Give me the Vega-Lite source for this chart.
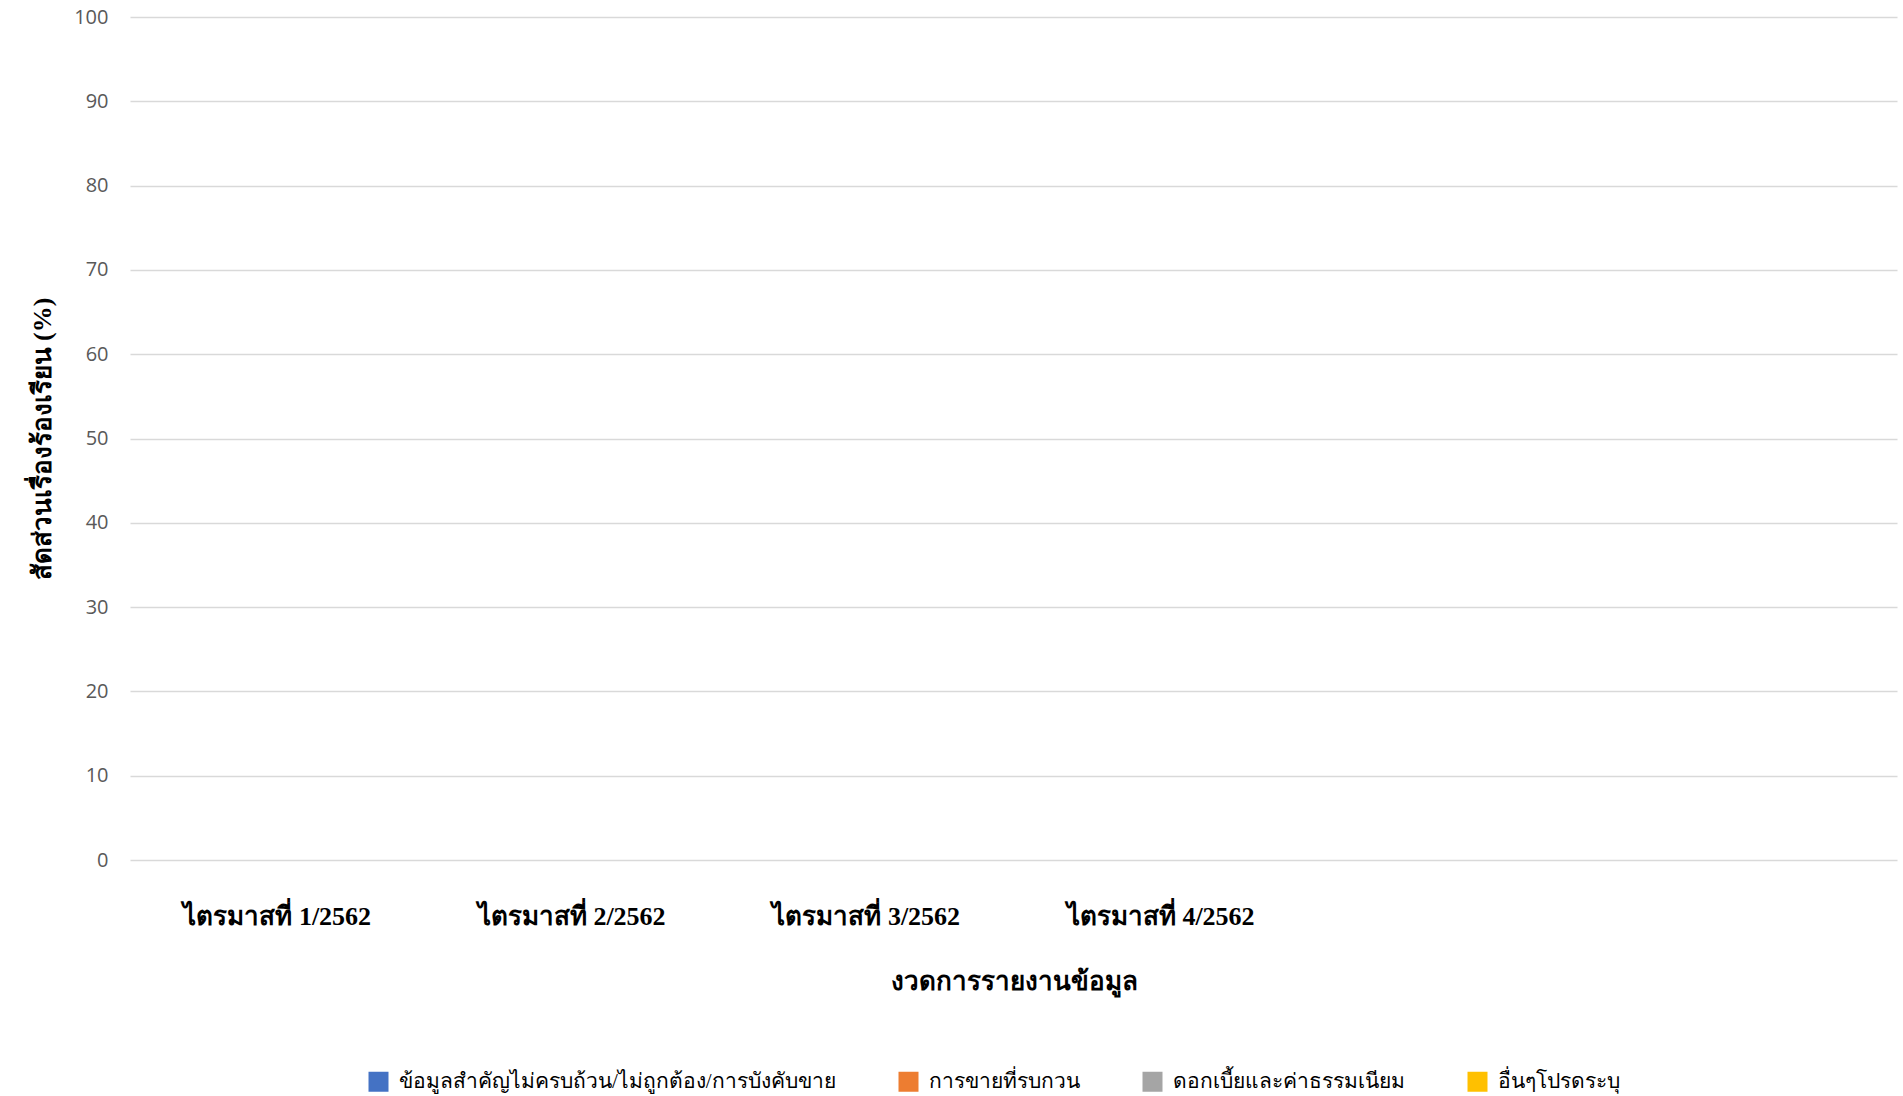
{
  "$schema": "https://vega.github.io/schema/vega-lite/v6.json",
  "autosize": "none",
  "width": 1767,
  "height": 843,
  "padding": {"left": 130, "top": 17, "right": 6, "bottom": 236},
  "background": "white",
  "data": {
    "values": [
      {"period": "ไตรมาสที่ 1/2562", "type": "ข้อมูลสำคัญไม่ครบถ้วน/ไม่ถูกต้อง/การบังคับขาย", "value": 0},
      {"period": "ไตรมาสที่ 1/2562", "type": "การขายที่รบกวน", "value": 0},
      {"period": "ไตรมาสที่ 1/2562", "type": "ดอกเบี้ยและค่าธรรมเนียม", "value": 0},
      {"period": "ไตรมาสที่ 1/2562", "type": "อื่นๆโปรดระบุ", "value": 0},
      {"period": "ไตรมาสที่ 2/2562", "type": "ข้อมูลสำคัญไม่ครบถ้วน/ไม่ถูกต้อง/การบังคับขาย", "value": 0},
      {"period": "ไตรมาสที่ 2/2562", "type": "การขายที่รบกวน", "value": 0},
      {"period": "ไตรมาสที่ 2/2562", "type": "ดอกเบี้ยและค่าธรรมเนียม", "value": 0},
      {"period": "ไตรมาสที่ 2/2562", "type": "อื่นๆโปรดระบุ", "value": 0},
      {"period": "ไตรมาสที่ 3/2562", "type": "ข้อมูลสำคัญไม่ครบถ้วน/ไม่ถูกต้อง/การบังคับขาย", "value": 0},
      {"period": "ไตรมาสที่ 3/2562", "type": "การขายที่รบกวน", "value": 0},
      {"period": "ไตรมาสที่ 3/2562", "type": "ดอกเบี้ยและค่าธรรมเนียม", "value": 0},
      {"period": "ไตรมาสที่ 3/2562", "type": "อื่นๆโปรดระบุ", "value": 0},
      {"period": "ไตรมาสที่ 4/2562", "type": "ข้อมูลสำคัญไม่ครบถ้วน/ไม่ถูกต้อง/การบังคับขาย", "value": 0},
      {"period": "ไตรมาสที่ 4/2562", "type": "การขายที่รบกวน", "value": 0},
      {"period": "ไตรมาสที่ 4/2562", "type": "ดอกเบี้ยและค่าธรรมเนียม", "value": 0},
      {"period": "ไตรมาสที่ 4/2562", "type": "อื่นๆโปรดระบุ", "value": 0},
      {"period": "ช่องว่าง5", "type": "ข้อมูลสำคัญไม่ครบถ้วน/ไม่ถูกต้อง/การบังคับขาย", "value": 0},
      {"period": "ช่องว่าง6", "type": "ข้อมูลสำคัญไม่ครบถ้วน/ไม่ถูกต้อง/การบังคับขาย", "value": 0}
    ]
  },
  "mark": {"type": "bar", "strokeWidth": 0},
  "encoding": {
    "x": {
      "field": "period",
      "type": "nominal",
      "sort": null,
      "scale": {"paddingInner": 0, "paddingOuter": 0},
      "axis": {
        "title": "งวดการรายงานข้อมูล",
        "labelAngle": 0,
        "labelExpr": "indexof(datum.label, 'ไตรมาส') == 0 ? datum.label : ''",
        "labelFont": "Liberation Serif",
        "labelFontWeight": "bold",
        "labelFontSize": 26,
        "labelLimit": 0,
        "labelColor": "#000000",
        "labelBaseline": "middle",
        "labelPadding": 56,
        "ticks": false,
        "tickSize": 0,
        "domain": false,
        "grid": false,
        "titleFont": "Liberation Serif",
        "titleFontWeight": "bold",
        "titleFontSize": 26,
        "titleColor": "#000000",
        "titlePadding": 39
      }
    },
    "xOffset": {
      "field": "type",
      "type": "nominal",
      "sort": ["ข้อมูลสำคัญไม่ครบถ้วน/ไม่ถูกต้อง/การบังคับขาย", "การขายที่รบกวน", "ดอกเบี้ยและค่าธรรมเนียม", "อื่นๆโปรดระบุ"]
    },
    "y": {
      "field": "value",
      "type": "quantitative",
      "scale": {"domain": [0, 100], "nice": false},
      "axis": {
        "title": "สัดส่วนเรื่องร้องเรียน (%)",
        "values": [0, 10, 20, 30, 40, 50, 60, 70, 80, 90, 100],
        "labelFont": "Open Sans",
        "labelFontSize": 20,
        "labelColor": "#595959",
        "labelPadding": 22,
        "ticks": false,
        "tickSize": 0,
        "domain": false,
        "grid": true,
        "gridColor": "#D9D9D9",
        "gridWidth": 1.5,
        "titleFont": "Liberation Serif",
        "titleFontWeight": "bold",
        "titleFontSize": 26,
        "titleColor": "#000000",
        "titlePadding": 18
      }
    },
    "color": {
      "field": "type",
      "type": "nominal",
      "sort": ["ข้อมูลสำคัญไม่ครบถ้วน/ไม่ถูกต้อง/การบังคับขาย", "การขายที่รบกวน", "ดอกเบี้ยและค่าธรรมเนียม", "อื่นๆโปรดระบุ"],
      "scale": {
        "domain": ["ข้อมูลสำคัญไม่ครบถ้วน/ไม่ถูกต้อง/การบังคับขาย", "การขายที่รบกวน", "ดอกเบี้ยและค่าธรรมเนียม", "อื่นๆโปรดระบุ"],
        "range": ["#4472C4", "#ED7D31", "#A5A5A5", "#FFC000"]
      },
      "legend": {
        "title": null,
        "orient": "none",
        "direction": "horizontal",
        "legendX": 238,
        "legendY": 1054,
        "symbolType": "square",
        "symbolSize": 400,
        "symbolStrokeWidth": 0,
        "labelFont": "Liberation Serif",
        "labelFontSize": 21,
        "labelColor": "#000000",
        "labelLimit": 0,
        "columnPadding": 62,
        "labelOffset": 10
      }
    }
  },
  "config": {"view": {"stroke": null}}
}
